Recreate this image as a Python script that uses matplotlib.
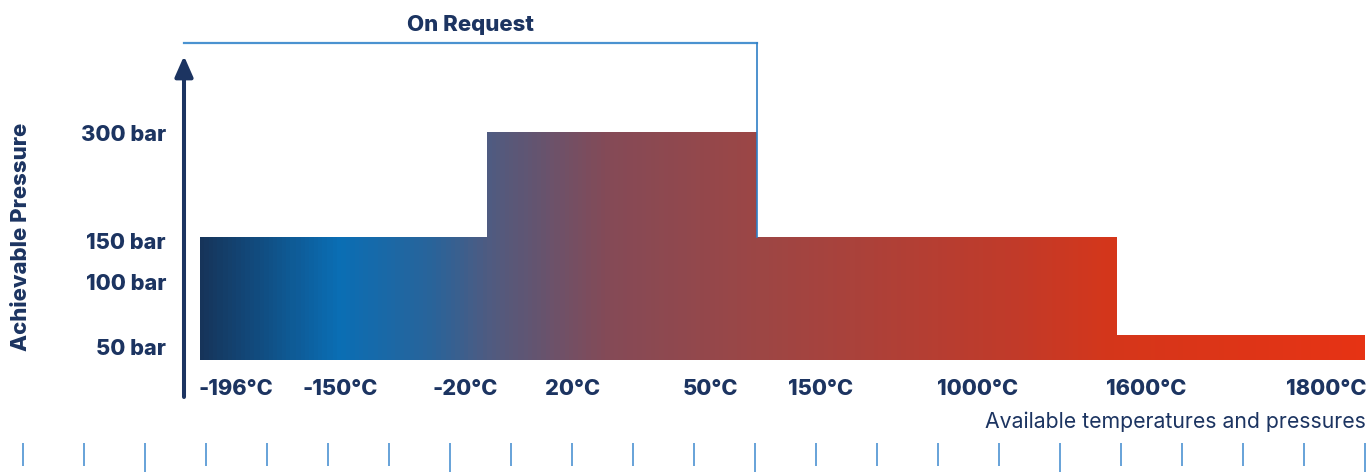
import numpy as np
import matplotlib
matplotlib.use("Agg")
import matplotlib.pyplot as plt
from matplotlib.colors import LinearSegmentedColormap
from matplotlib.patches import Polygon
from matplotlib.transforms import blended_transform_factory, ScaledTranslation

# ---------------- data ----------------
temp_labels = ["-196°C", "-150°C", "-20°C", "20°C", "50°C", "150°C", "1000°C", "1600°C", "1800°C"]
temp_label_pos = [5.2, 15.6, 28.1, 38.9, 52.7, 63.7, 79.4, 96.2, 114.2]   # schematic x positions
segment_edges = [1.6, 30.3, 57.3, 93.3, 118.1]                          # schematic x positions
segment_pressure = [150, 300, 150, 50]                                  # bar
pressure_ticks = [50, 100, 150, 300]
pressure_tick_labels = ["50 bar", "100 bar", "150 bar", "300 bar"]
on_request_segment = 1   # index of segment shown "On Request" (up to its right edge)

# ---------------- style ----------------
NAVY = "#1c3461"
BLUE_LINE = "#4a92d0"
FONT = ["Inter", "DejaVu Sans"]
plt.rcParams["font.family"] = FONT
BW = "heavy"

W, H = 1368, 473
fig = plt.figure(figsize=(W / 100, H / 100), dpi=100)

left_px, right_px, top_px, bottom_px = 184, 1366, 56, 397
ax = fig.add_axes([left_px / W, 1 - bottom_px / H,
                   (right_px - left_px) / W, (bottom_px - top_px) / H])

# schematic (non linear) pressure axis
P = [-200, 0, 50, 100, 150, 300, 600]
V = [-100, 0, 25, 78, 123, 228, 438]
fwd = lambda p: np.interp(p, P, V)
inv = lambda v: np.interp(v, V, P)
ax.set_yscale("function", functions=(fwd, inv))
ax.set_xlim(0, (right_px - left_px) / 10)
ax.set_ylim(inv(-37), inv(304))

for s in ax.spines.values():
    s.set_visible(False)

# step outline polygon
verts = [(segment_edges[0], 0)]
for i, p in enumerate(segment_pressure):
    verts.append((segment_edges[i], p))
    verts.append((segment_edges[i + 1], p))
verts.append((segment_edges[-1], 0))
poly = Polygon(verts, closed=True, facecolor="none", edgecolor="none")
ax.add_patch(poly)

# horizontal gradient clipped by step shape
stops = [(0.0, "#16345a"), (0.118, "#0a6eb4"), (0.20, "#2a6399"), (0.246, "#4e5b81"),
         (0.348, "#844a57"), (0.478, "#9c4645"), (0.70, "#c13a29"), (0.787, "#d5361a"),
         (1.0, "#e63314")]
cmap = LinearSegmentedColormap.from_list("heat", stops)
xg = np.linspace(segment_edges[0], segment_edges[-1], 800)
yg = np.array([0, max(segment_pressure)])
C = ((xg[:-1] + xg[1:]) / 2 - segment_edges[0]) / (segment_edges[-1] - segment_edges[0])
mesh = ax.pcolormesh(xg, yg, C[np.newaxis, :], cmap=cmap, vmin=0, vmax=1,
                     shading="flat", edgecolors="none", linewidth=0, antialiased=False)
mesh.set_clip_path(poly)

# y ticks
ax.set_yticks(pressure_ticks)
ax.set_yticklabels(pressure_tick_labels)
ax.set_xticks([])
ax.tick_params(axis="y", length=0, pad=13, labelsize=15.7, labelcolor=NAVY)
nudges = [-8.5, 0, -3, -0.7]
for lab, dy in zip(ax.get_yticklabels(), nudges):
    lab.set_fontweight(BW)
    lab.set_transform(lab.get_transform() + ScaledTranslation(0, dy / 72, fig.dpi_scale_trans))

# x labels
btr = blended_transform_factory(ax.transData, ax.transAxes)
for lab, x in zip(temp_labels, temp_label_pos):
    ax.text(x, (bottom_px - 389) / (bottom_px - top_px), lab, transform=btr,
            ha="center", va="center", fontsize=15.7, fontweight=BW, color=NAVY)

# y axis arrow
ax.annotate("", xy=(0, 1), xytext=(0, 0), xycoords="axes fraction",
            arrowprops=dict(arrowstyle="-|>,head_length=0.5,head_width=0.22",
                            lw=2.9, color=NAVY, mutation_scale=25,
                            shrinkA=0, shrinkB=0))

# "On Request" bracket
x_end = segment_edges[on_request_segment + 1]
y_br = (bottom_px - 43) / (bottom_px - top_px)
ax.plot([0, x_end], [y_br, y_br], transform=btr, color=BLUE_LINE, lw=1.6, clip_on=False)
lo, hi = ax.get_ylim()
frac150 = (fwd(segment_pressure[on_request_segment + 1]) - fwd(lo)) / (fwd(hi) - fwd(lo))
ax.plot([x_end, x_end], [frac150, y_br], transform=btr, color="#2f7fc6", lw=1.2, clip_on=False)
ax.text(x_end / 2, (bottom_px - 25) / (bottom_px - top_px), "On Request", transform=btr,
        ha="center", va="center", fontsize=16, fontweight=BW, color=NAVY)

# axis titles
fig.text(21 / W, 1 - 237 / H, "Achievable Pressure", rotation=90, ha="center", va="center",
         fontsize=16, fontweight=BW, color=NAVY)
fig.text(1366 / W, 1 - 422 / H, "Available temperatures and pressures", ha="right",
         va="center", fontsize=15.3, color=NAVY)

# decorative ruler at bottom
axr = fig.add_axes([22 / W, 0, (1366 - 22) / W, 30 / H])
axr.set_xlim(-0.02, 22.02)
axr.set_ylim(0, 30)
axr.axis("off")
idx = np.arange(23)
long_mask = (idx % 5) == 2
axr.vlines(idx[~long_mask], 7, 30, color="#5b9bd5", lw=1.3)
axr.vlines(idx[long_mask], 1, 30, color="#5b9bd5", lw=1.3)

fig.savefig("out.png", dpi=100)
